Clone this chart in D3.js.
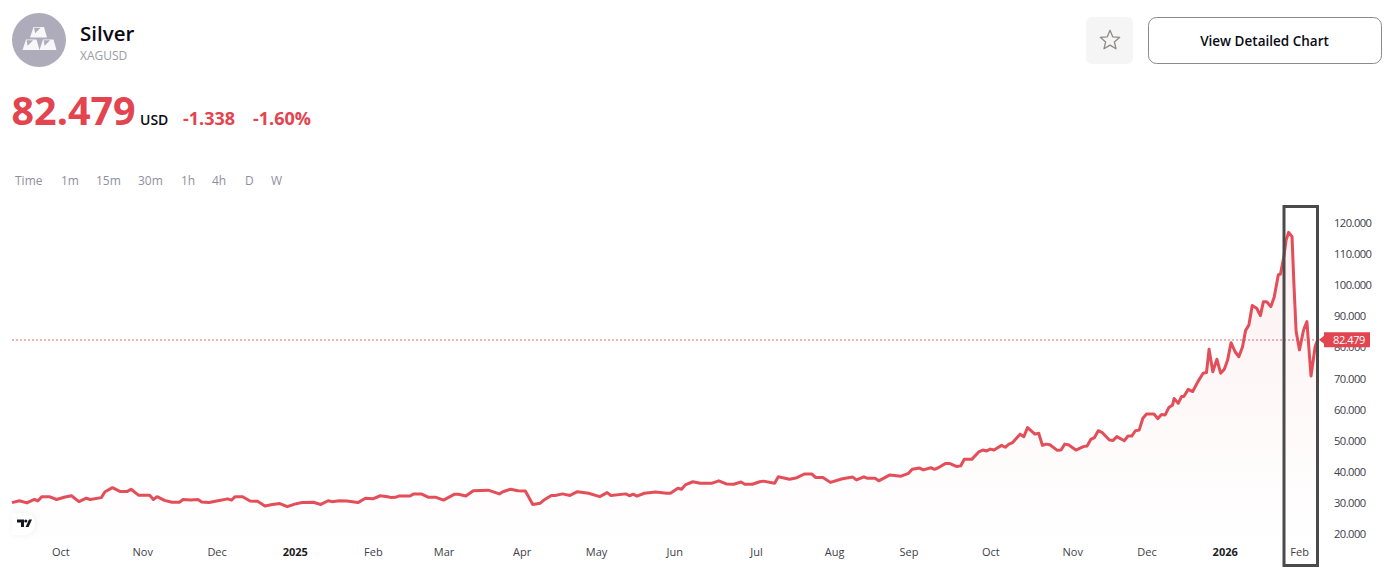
<!DOCTYPE html>
<html>
<head>
<meta charset="utf-8">
<title>Silver XAGUSD</title>
<script src="https://cdn.jsdelivr.net/npm/d3@7/dist/d3.min.js"></script>
<style>
  html, body { margin: 0; padding: 0; background: #fff; overflow: hidden; }
  svg { display: block; font-family: "Open Sans", "Noto Sans", sans-serif; }
  .axis path, .axis line { display: none; }
</style>
</head>
<body>
<svg id="chart" width="1384" height="573"></svg>
<script>
// session number counted from the left edge of the chart
const sessions = [
  0,2,4,6,7,8,10,12,14,16,18,20,21,24,25,27,29,31,32,34,37,38,39,41,43,45,46,48,50,51,53,55,58,59,60,62,64,66,68,70,72,74,76,78,81,83,85,86,88,
  90,93,95,97,99,101,102,103,104,107,108,110,112,114,116,119,120,122,124,128,131,132,134,136,138,140,142,143,145,146,148,150,152,155,158,160,161,165,166,167,168,170,173,176,177,179,180,
  181,183,185,188,190,192,194,196,197,199,201,202,205,206,209,211,213,215,216,218,220,223,224,226,227,229,230,232,233,236,239,241,242,244,245,247,248,249,251,252,254,255,256,258,260,
  261,262,263,264,266,267,268,269,271,272,273,275,276,277,278,279,281,282,283,284,286,288,289,290,291,292,293,295,296,297,299,300,301,302,303,304,305,307,308,309,310,311,312,
  312.4,313.5,314.4,315,316.2,317.4,318.8,320.2,321.1,321.8,322.8,323.9,324.9,325.9,326.8,327.7,328.8,329.8,330.8,331.6,332.5,333.4,334.6,335.6,336.4,337.3,338.4,339.3,340.4,341,341.9,342.5,343.2,344.1,344.6,345.2,346.1,347.2,348.1,349.2,350.3,351
];
const closes = [
  30.1,30.7,30.0,31.1,30.7,32.0,32.0,31.1,31.8,32.3,30.4,31.5,31.1,31.7,33.6,34.9,33.7,33.7,34.4,32.5,32.5,31.1,32.0,30.8,30.2,30.2,31.1,30.9,31.1,30.3,30.1,30.6,31.3,30.9,32.0,32.0,30.6,30.5,29.0,29.5,29.8,28.8,29.6,30.1,30.2,29.5,30.7,30.4,30.7,
  30.6,30.1,31.5,31.3,32.3,32.0,31.7,31.8,32.2,32.2,32.9,32.9,31.8,31.8,30.9,32.8,32.8,32.2,33.9,34.1,32.9,33.6,34.4,33.9,33.8,29.5,29.9,30.9,32.4,32.4,32.9,32.4,33.6,33.1,32.0,33.3,32.4,32.9,32.3,32.8,32.2,33.1,33.5,33.1,33.1,34.7,34.4,
  35.8,36.8,36.3,36.3,37.1,36.1,36.0,36.7,36.0,36.0,36.8,37.0,36.3,38.4,37.6,38.1,39.3,39.3,38.2,38.2,36.6,37.7,37.9,38.3,37.4,38.4,37.9,37.9,37.1,39.0,38.6,39.5,40.8,41.2,40.6,41.3,40.8,41.3,42.7,42.7,41.7,41.9,44.0,44.0,46.5,
  47.0,46.7,47.3,47.0,48.5,47.9,48.9,49.4,52.1,51.3,54.2,52.1,52.4,48.5,48.9,48.7,46.9,47.0,48.9,48.7,47.0,48.1,48.3,50.4,51.0,53.2,52.7,50.2,50.1,51.3,50.0,51.5,51.5,53.2,53.4,57.2,58.6,58.6,57.1,58.4,58.3,60.7,61.5,
  63.6,62.0,64.2,64.2,66.5,65.8,69.0,71.7,71.9,79.4,72.2,76.2,71.7,73.0,76.0,81.5,78.6,77.0,80.2,85.4,87.2,93.5,92.6,90.2,94.7,94.7,93.1,96.1,103.3,103.6,109.2,114.5,117.0,115.6,100.6,85.1,79.2,85.6,88.3,70.8,80.2,82.479
];
const lastPrice = 82.479;

const monthSessions = [13,35,55,76,97,116,137,157,178,200,221,241,263,285,305,326,346];
const monthLabels = ["Oct","Nov","Dec","2025","Feb","Mar","Apr","May","Jun","Jul","Aug","Sep","Oct","Nov","Dec","2026","Feb"];
const priceTicks = [20,30,40,50,60,70,80,90,100,110,120];
const timeframes = ["Time","1m","15m","30m","1h","4h","D","W"];
const timeframeX = [15,61,96,138,181,212,245,271];

const red = "#e2454f";
const svg = d3.select("#chart");

const x = d3.scaleLinear().domain([0, 351]).range([12, 1317.7]);
const y = d3.scaleLinear().domain([20, 120]).range([534, 223]);

// ---- header ----
svg.append("circle").attr("cx", 39).attr("cy", 40).attr("r", 27).attr("fill", "#aeabba");

// three silver bars
const bars = svg.append("g").attr("fill", "#f7f7f9").attr("stroke", "none");
[[30.5, 27], [23, 39.5], [40, 39.5]].forEach(p => {
    bars.append("path")
        .attr("d", `M${p[0] + 3},${p[1]} h10.5 l3,10.5 h-17 z`);
    bars.append("path")
        .attr("d", `M${p[0] + 3.6},${p[1] + 0.8} h6.5 l-5.5,5.5 z`)
        .attr("fill", "#aeabba");
});

svg.append("text").attr("x", 80).attr("y", 41).attr("font-size", 20.5).attr("font-weight", 600)
    .attr("fill", "#0a0a14").text("Silver");
svg.append("text").attr("x", 80).attr("y", 60).attr("font-size", 12).attr("fill", "#9c9ca4").text("XAGUSD");
svg.append("text").attr("x", 11.5).attr("y", 125).attr("font-size", 39.5).attr("font-weight", 700)
    .attr("fill", red).text("82.479");
svg.append("text").attr("x", 140).attr("y", 124.5).attr("font-size", 14).attr("font-weight", 600)
    .attr("fill", "#0a0a14").text("USD");
svg.append("text").attr("x", 183).attr("y", 125).attr("font-size", 18).attr("font-weight", 700)
    .attr("fill", red).text("-1.338");
svg.append("text").attr("x", 253).attr("y", 125).attr("font-size", 18).attr("font-weight", 700)
    .attr("fill", red).text("-1.60%");

svg.append("g").selectAll("text").data(timeframes).join("text")
    .attr("x", (d, i) => timeframeX[i])
    .attr("y", 185)
    .attr("font-size", 12)
    .attr("fill", "#8f8f9c")
    .text(d => d);

// favourite and detail buttons
svg.append("rect").attr("x", 1086).attr("y", 17).attr("width", 47).attr("height", 47).attr("rx", 6).attr("fill", "#f5f5f6");
const star = d3.range(10).map(i => {
    const r = i % 2 ? 4.6 : 10.2;
    const a = -Math.PI / 2 + i * Math.PI / 5;
    return [1110 + r * Math.cos(a), 40.5 + r * Math.sin(a)];
});
svg.append("path").attr("d", d3.line()(star) + "Z").attr("fill", "none")
    .attr("stroke", "#8d8a88").attr("stroke-width", 1.3).attr("stroke-linejoin", "round");
svg.append("rect").attr("x", 1148.5).attr("y", 17.5).attr("width", 233).attr("height", 46).attr("rx", 8)
    .attr("fill", "#fff").attr("stroke", "#8a8a8a");
svg.append("text").attr("x", 1264.5).attr("y", 46).attr("text-anchor", "middle").attr("font-size", 13.5)
    .attr("font-weight", 600).attr("fill", "#0a0a14").text("View Detailed Chart");

// ---- chart ----
const defs = svg.append("defs");
const grad = defs.append("linearGradient").attr("id", "areaFill")
    .attr("gradientUnits", "userSpaceOnUse")
    .attr("x1", 0).attr("x2", 0).attr("y1", 225).attr("y2", 545);
grad.append("stop").attr("offset", 0).attr("stop-color", red).attr("stop-opacity", 0.08);
grad.append("stop").attr("offset", 1).attr("stop-color", red).attr("stop-opacity", 0);

const area = d3.area()
    .x((d, i) => x(sessions[i]))
    .y0(545)
    .y1(d => y(d));
const line = d3.line()
    .x((d, i) => x(sessions[i]))
    .y(d => y(d));

svg.append("path").datum(closes).attr("d", area).attr("fill", "url(#areaFill)");

// dotted last price line, 2px wide but faint so it stays pink
svg.append("line")
    .attr("x1", 12).attr("x2", 1322)
    .attr("y1", 340).attr("y2", 340)
    .attr("stroke", "#e2454f").attr("stroke-opacity", 0.55).attr("stroke-width", 1.5).attr("stroke-dasharray", "2 2");

svg.append("path").datum(closes).attr("d", line)
    .attr("fill", "none").attr("stroke", red).attr("stroke-width", 3)
    .attr("stroke-linejoin", "round").attr("stroke-opacity", 0.95);

// axes
const yAxis = d3.axisRight(y)
    .tickValues(priceTicks)
    .tickFormat(d3.format(".3f"))
    .tickSize(0)
    .tickPadding(0);
svg.append("g").attr("class", "axis").attr("transform", "translate(1334,0)").call(yAxis)
    .attr("font-family", null)
    .call(g => g.selectAll("text").attr("font-size", 11.2).attr("letter-spacing", -0.55).attr("fill", "#404048"));

const xAxis = d3.axisBottom(x)
    .tickValues(monthSessions)
    .tickFormat((d, i) => monthLabels[i])
    .tickSize(0)
    .tickPadding(0);
svg.append("g").attr("class", "axis").attr("transform", "translate(0,548)").call(xAxis)
    .attr("font-family", null)
    .call(g => g.selectAll("text")
        .attr("font-size", 11)
        .attr("fill", (d, i) => /^\d/.test(monthLabels[i]) ? "#1c1c22" : "#404048")
        .attr("font-weight", (d, i) => /^\d/.test(monthLabels[i]) ? 700 : 400));

// last price tag
const tagY = y(lastPrice);
svg.append("path")
    .attr("d", `M1319,${tagY} l5,-4 v-3.5 h46 v15 h-46 v-3.5 z`)
    .attr("fill", red);
svg.append("text").attr("x", 1333).attr("y", tagY + 4).attr("font-size", 11).attr("letter-spacing", -0.4).attr("fill", "#fff")
    .text(d3.format(".3f")(lastPrice));

// highlight box drawn over the last days
svg.append("rect").attr("x", 1284).attr("y", 206.5).attr("width", 33.5).attr("height", 359)
    .attr("fill", "none").attr("stroke", "#4a4a4a").attr("stroke-width", 3);

// tradingview badge
svg.append("path")
    .attr("d", "M12,513 h12 a11,11 0 0 1 0,22 h-12 z")
    .attr("fill", "#fff")
    .style("filter", "drop-shadow(1px 0 3px rgba(0,0,0,.06))");
const tv = svg.append("g").attr("fill", "#131722");
tv.append("path").attr("d", "M17,519.5 h7 v7.5 h-3 v-4.5 h-4 z");
tv.append("circle").attr("cx", 25.8).attr("cy", 521).attr("r", 1.6);
tv.append("path").attr("d", "M29,519.5 h3 l-3.4,7.5 h-3 z");
</script>
</body>
</html>
